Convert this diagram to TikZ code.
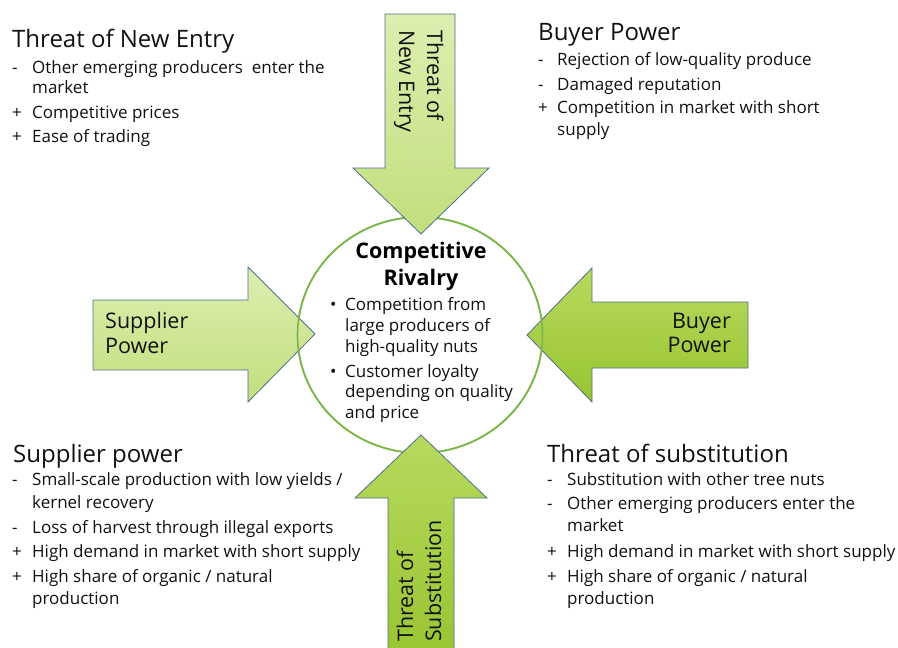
\documentclass[tikz,border=0pt]{standalone}
\usepackage{fontspec}
\setmainfont{Open Sans}
\usetikzlibrary{shapes.geometric}
\definecolor{lightleaf}{HTML}{CFE893}
\definecolor{lightleafhi}{HTML}{DCEFB0}
\definecolor{lightleaflo}{HTML}{C2DE7C}
\definecolor{darkleaf}{HTML}{A6D141}
\definecolor{darkleafhi}{HTML}{B6DA5E}
\definecolor{darkleaflo}{HTML}{98C431}
\definecolor{edgeblue}{HTML}{4F6E8F}
\definecolor{ringgreen}{HTML}{7AB648}
\definecolor{ink}{HTML}{111111}
\begin{document}
\begin{tikzpicture}[x=1pt,y=-1pt,
  ring/.style={draw=ringgreen, line width=1.6pt, ellipse, minimum width=245pt,
    minimum height=236pt, inner sep=0},
  lightarrow/.style={top color=lightleafhi, bottom color=lightleaflo, draw=edgeblue, line width=0.8pt},
  darkarrow/.style={top color=darkleafhi, bottom color=darkleaflo, draw=edgeblue, line width=0.8pt},
  label/.style={font=\fontsize{21.5}{25}\selectfont, text=ink, inner sep=0, anchor=base west},
  head/.style={font=\fontsize{24}{28}\selectfont, text=ink, inner sep=0, anchor=base west},
  item/.style={font=\fontsize{17}{20}\selectfont, text=ink, inner sep=0, anchor=base west},
  ctitle/.style={font=\fontsize{21.5}{25}\selectfont\bfseries, text=black, inner sep=0, anchor=base},
  citem/.style={font=\fontsize{17}{20}\selectfont, text=ink, inner sep=0, anchor=base west},
]
\useasboundingbox (0,0) rectangle (898,648);
\clip (0,0) rectangle (898,648);

% central rivalry circle, white interior
\node[ring, fill=white] (rivalry) at (420,335) {};

% horizontal arrows (the ring outline is drawn over them)
\draw[lightarrow] (93,300) -- (248,300) -- (248,267) -- (315,334) -- (248,402)
  -- (248,370) -- (93,370) -- cycle;
\draw[darkarrow] (748,302) -- (592,302) -- (592,268) -- (527,335) -- (592,402)
  -- (592,368) -- (748,368) -- cycle;
\node[ring] (rivalryline) at (420,335) {};

% vertical arrows
\draw[lightarrow] (385,14) -- (455,14) -- (455,168) -- (489,168) -- (421,234)
  -- (353,168) -- (385,168) -- cycle;
\draw[darkarrow] (388,660) -- (388,498) -- (355,498) -- (421,435) -- (487,498)
  -- (454,498) -- (454,660);

% arrow labels
\node[label] (sp1) at (105,328) {Supplier};
\node[label] (sp2) at (105,353) {Power};
\node[label, anchor=base east] (bp1) at (731,328) {Buyer};
\node[label, anchor=base east] (bp2) at (731,352) {Power};
\node[label, rotate=-90] (ne1) at (427,30) {Threat of};
\node[label, rotate=-90] (ne2) at (399,30) {New Entry};
\node[label, rotate=90] (ts1) at (413,642) {Threat of};
\node[label, rotate=90] (ts2) at (441,642) {Substitution};

% text inside the circle
\node[ctitle] (cr1) at (421,258) {Competitive};
\node[ctitle] (cr2) at (421,285) {Rivalry};
\foreach \yy/\mk/\tx [count=\n] in {
  310/{\textbullet}/{Competition from},
  331/{}/{large producers of},
  352/{}/{high-quality nuts},
  377/{\textbullet}/{Customer loyalty},
  397/{}/{depending on quality},
  418/{}/{and price}}
  \node[citem] (cr-\n) at (328,\yy) {\makebox[17pt][l]{\hspace{2pt}\mk}\tx};

% threat of new entry
\node[head] (tnTitle) at (12,47) {Threat of New Entry};
\foreach \yy/\mk/\tx [count=\n] in {
  73/{-}/{Other emerging producers\ \ enter the},
  93/{}/{market},
  118/{+}/{Competitive prices},
  142/{+}/{Ease of trading}}
  \node[item] (tn-\n) at (12,\yy) {\makebox[20pt][l]{\mk}\tx};

% buyer power
\node[head] (bpTitle) at (538,40) {Buyer Power};
\foreach \yy/\mk/\tx [count=\n] in {
  65/{-}/{Rejection of low-quality produce},
  90/{-}/{Damaged reputation},
  113/{+}/{Competition in market with short},
  135/{}/{supply}}
  \node[item] (bpl-\n) at (538,\yy) {\makebox[19pt][l]{\mk}\tx};

% supplier power
\node[head] (spTitle) at (13,462) {Supplier power};
\foreach \yy/\mk/\tx [count=\n] in {
  485/{-}/{Small-scale production with low yields /},
  508/{}/{kernel recovery},
  533/{-}/{Loss of harvest through illegal exports},
  557/{+}/{High demand in market with short supply},
  582/{+}/{High share of organic / natural},
  604/{}/{production}}
  \node[item] (spl-\n) at (12,\yy) {\makebox[20pt][l]{\mk}\tx};

% threat of substitution
\node[head] (tsTitle) at (547,462) {Threat of substitution};
\foreach \yy/\mk/\tx [count=\n] in {
  485/{-}/{Substitution with other tree nuts},
  509/{-}/{Other emerging producers enter the},
  531/{}/{market},
  557/{+}/{High demand in market with short supply},
  582/{+}/{High share of organic / natural},
  604/{}/{production}}
  \node[item] (tsl-\n) at (547,\yy) {\makebox[20pt][l]{\mk}\tx};
\end{tikzpicture}
\end{document}
